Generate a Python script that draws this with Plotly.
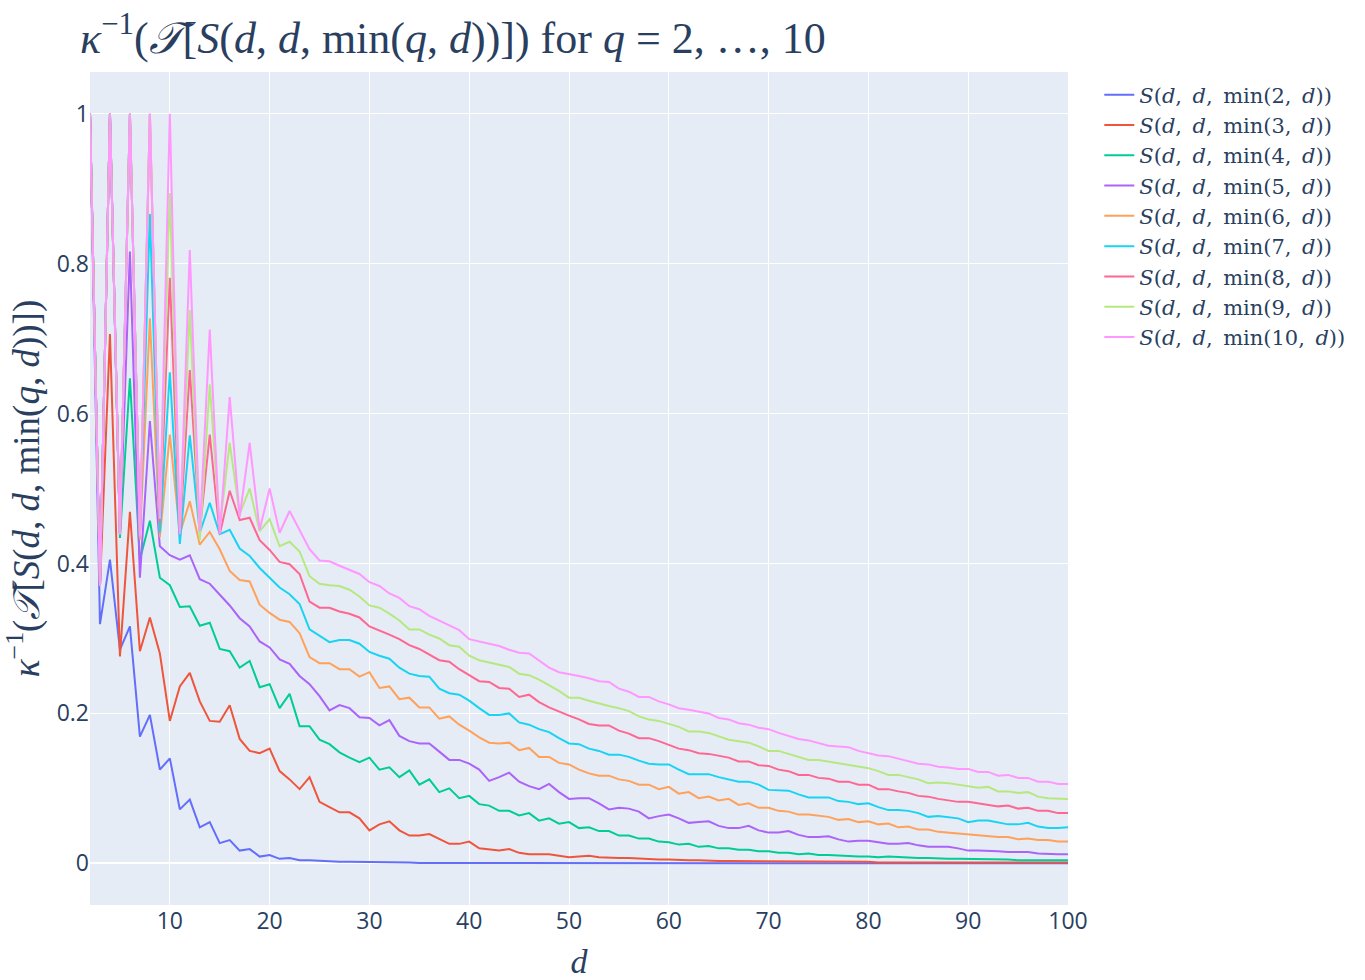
import plotly.graph_objects as go

d_values = list(range(2, 101))

q_values = [2, 3, 4, 5, 6, 7, 8, 9, 10]

s_q2 = [
    1.0, 0.319, 0.405, 0.285, 0.316, 0.169, 0.198, 0.125,          # d 2-9
    0.140, 0.072, 0.085, 0.048, 0.055, 0.027, 0.031, 0.017, 0.019, 0.009,  # 10-19
    0.011, 0.006, 0.007, 0.004, 0.004, 0.003, 0.003, 0.002, 0.002, 0.002,  # 20-29
    0.001, 0.001, 0.001, 0.001, 0.001, 0.0005, 0.0005, 0.0004, 0.0003, 0.0003,  # 30-39
    0.0002, 0.0002, 0.0001, 0.0001, 0.0001, 0.0001, 0.0, 0.0, 0.0, 0.0,  # 40-49
    0.0, 0.0, 0.0, 0.0, 0.0, 0.0, 0.0, 0.0, 0.0, 0.0,  # 50-59
    0.0, 0.0, 0.0, 0.0, 0.0, 0.0, 0.0, 0.0, 0.0, 0.0,  # 60-69
    0.0, 0.0, 0.0, 0.0, 0.0, 0.0, 0.0, 0.0, 0.0, 0.0,  # 70-79
    0.0, 0.0, 0.0, 0.0, 0.0, 0.0, 0.0, 0.0, 0.0, 0.0,  # 80-89
    0.0, 0.0, 0.0, 0.0, 0.0, 0.0, 0.0, 0.0, 0.0, 0.0,  # 90-99
    0.0,  # 100
]

s_q3 = [
    1.0, 0.370, 0.706, 0.276, 0.469, 0.283, 0.328, 0.280,
    0.190, 0.236, 0.254, 0.216, 0.190, 0.189, 0.211, 0.166, 0.150, 0.147,
    0.153, 0.123, 0.112, 0.099, 0.115, 0.082, 0.075, 0.068, 0.068, 0.060,
    0.044, 0.052, 0.056, 0.044, 0.037, 0.037, 0.039, 0.032, 0.026, 0.026,
    0.029, 0.020, 0.019, 0.017, 0.019, 0.014, 0.012, 0.012, 0.012, 0.010,
    0.008, 0.009, 0.010, 0.008, 0.007, 0.007, 0.007, 0.006, 0.005, 0.005,
    0.005, 0.004, 0.004, 0.004, 0.003, 0.003, 0.003, 0.003, 0.003, 0.002,
    0.002, 0.002, 0.002, 0.002, 0.002, 0.002, 0.002, 0.002, 0.002, 0.002,
    0.002, 0.001, 0.001, 0.001, 0.001, 0.001, 0.001, 0.001, 0.001, 0.001,
    0.001, 0.001, 0.001, 0.001, 0.001, 0.001, 0.001, 0.001, 0.001, 0.001,
    0.001,
]

s_q4 = [
    1.0, 0.370, 1.0, 0.434, 0.647, 0.405, 0.457, 0.381,
    0.371, 0.342, 0.343, 0.317, 0.321, 0.286, 0.283, 0.261, 0.270, 0.235,
    0.239, 0.207, 0.226, 0.183, 0.183, 0.165, 0.159, 0.148, 0.141, 0.135,
    0.141, 0.125, 0.128, 0.115, 0.124, 0.105, 0.112, 0.095, 0.100, 0.087,
    0.090, 0.079, 0.077, 0.070, 0.070, 0.064, 0.067, 0.057, 0.060, 0.053,
    0.055, 0.047, 0.048, 0.043, 0.043, 0.037, 0.037, 0.033, 0.033, 0.029,
    0.028, 0.025, 0.026, 0.022, 0.023, 0.020, 0.020, 0.018, 0.018, 0.016,
    0.016, 0.014, 0.014, 0.012, 0.013, 0.011, 0.011, 0.010, 0.010, 0.009,
    0.009, 0.008, 0.009, 0.008, 0.008, 0.007, 0.007, 0.006, 0.006, 0.006,
    0.006, 0.005, 0.005, 0.005, 0.005, 0.004, 0.004, 0.004, 0.004, 0.004,
    0.004,
]

s_q5 = [
    1.0, 0.370, 1.0, 0.439, 0.816, 0.381, 0.590, 0.423,
    0.411, 0.405, 0.411, 0.379, 0.373, 0.359, 0.344, 0.327, 0.316, 0.296,
    0.288, 0.272, 0.266, 0.250, 0.239, 0.223, 0.204, 0.211, 0.207, 0.195,
    0.194, 0.184, 0.191, 0.170, 0.163, 0.160, 0.160, 0.149, 0.138, 0.138,
    0.133, 0.125, 0.110, 0.115, 0.121, 0.109, 0.103, 0.099, 0.106, 0.095,
    0.086, 0.087, 0.087, 0.080, 0.072, 0.074, 0.073, 0.069, 0.060, 0.063,
    0.065, 0.060, 0.054, 0.055, 0.056, 0.050, 0.047, 0.047, 0.050, 0.044,
    0.041, 0.041, 0.043, 0.038, 0.035, 0.035, 0.036, 0.032, 0.029, 0.030,
    0.030, 0.028, 0.026, 0.026, 0.027, 0.024, 0.022, 0.022, 0.022, 0.020,
    0.017, 0.017, 0.017, 0.016, 0.015, 0.015, 0.015, 0.013, 0.012, 0.012,
    0.012,
]

s_q6 = [
    1.0, 0.370, 1.0, 0.439, 1.0, 0.432, 0.727, 0.435,
    0.572, 0.440, 0.483, 0.425, 0.442, 0.419, 0.390, 0.378, 0.376, 0.345,
    0.334, 0.325, 0.322, 0.307, 0.275, 0.267, 0.267, 0.259, 0.259, 0.249,
    0.255, 0.234, 0.236, 0.219, 0.221, 0.208, 0.208, 0.193, 0.196, 0.185,
    0.177, 0.168, 0.161, 0.160, 0.161, 0.151, 0.154, 0.142, 0.142, 0.134,
    0.132, 0.125, 0.120, 0.117, 0.117, 0.112, 0.110, 0.105, 0.105, 0.099,
    0.102, 0.093, 0.095, 0.087, 0.089, 0.084, 0.086, 0.078, 0.080, 0.074,
    0.074, 0.070, 0.069, 0.065, 0.065, 0.063, 0.062, 0.058, 0.059, 0.055,
    0.056, 0.052, 0.053, 0.048, 0.049, 0.045, 0.045, 0.042, 0.041, 0.039,
    0.038, 0.037, 0.036, 0.035, 0.035, 0.032, 0.033, 0.031, 0.031, 0.029,
    0.029,
]

s_q7 = [
    1.0, 0.370, 1.0, 0.439, 1.0, 0.436, 0.866, 0.441,
    0.655, 0.426, 0.571, 0.441, 0.481, 0.439, 0.445, 0.420, 0.410, 0.394,
    0.381, 0.368, 0.359, 0.346, 0.312, 0.303, 0.295, 0.298, 0.298, 0.293,
    0.282, 0.277, 0.273, 0.261, 0.253, 0.250, 0.249, 0.233, 0.227, 0.225,
    0.217, 0.207, 0.198, 0.198, 0.200, 0.188, 0.185, 0.179, 0.175, 0.167,
    0.160, 0.159, 0.153, 0.150, 0.145, 0.145, 0.142, 0.137, 0.133, 0.132,
    0.132, 0.125, 0.119, 0.119, 0.119, 0.115, 0.112, 0.109, 0.109, 0.105,
    0.098, 0.097, 0.097, 0.092, 0.088, 0.088, 0.088, 0.083, 0.082, 0.079,
    0.080, 0.075, 0.071, 0.071, 0.070, 0.067, 0.062, 0.063, 0.061, 0.060,
    0.055, 0.057, 0.057, 0.055, 0.052, 0.052, 0.054, 0.049, 0.047, 0.047,
    0.048,
]

s_q8 = [
    1.0, 0.370, 1.0, 0.439, 1.0, 0.436, 1.0, 0.455,
    0.781, 0.439, 0.658, 0.443, 0.572, 0.439, 0.497, 0.458, 0.461, 0.431,
    0.418, 0.402, 0.399, 0.386, 0.349, 0.341, 0.341, 0.336, 0.333, 0.328,
    0.316, 0.311, 0.305, 0.299, 0.291, 0.286, 0.279, 0.271, 0.269, 0.259,
    0.251, 0.243, 0.242, 0.234, 0.233, 0.222, 0.225, 0.215, 0.208, 0.202,
    0.197, 0.192, 0.186, 0.184, 0.184, 0.177, 0.173, 0.167, 0.167, 0.163,
    0.158, 0.153, 0.151, 0.147, 0.146, 0.143, 0.141, 0.136, 0.136, 0.131,
    0.130, 0.125, 0.123, 0.118, 0.118, 0.114, 0.113, 0.109, 0.109, 0.105,
    0.105, 0.099, 0.099, 0.096, 0.094, 0.090, 0.089, 0.086, 0.084, 0.082,
    0.082, 0.080, 0.079, 0.076, 0.077, 0.073, 0.074, 0.070, 0.070, 0.067,
    0.067,
]

s_q9 = [
    1.0, 0.370, 1.0, 0.439, 1.0, 0.436, 1.0, 0.460,
    0.894, 0.443, 0.738, 0.431, 0.639, 0.447, 0.561, 0.466, 0.500, 0.443,
    0.459, 0.423, 0.429, 0.416, 0.383, 0.373, 0.371, 0.370, 0.365, 0.356,
    0.344, 0.341, 0.333, 0.324, 0.312, 0.312, 0.305, 0.300, 0.291, 0.289,
    0.277, 0.271, 0.268, 0.265, 0.262, 0.253, 0.251, 0.245, 0.238, 0.230,
    0.221, 0.221, 0.217, 0.214, 0.210, 0.207, 0.203, 0.196, 0.192, 0.190,
    0.186, 0.182, 0.176, 0.176, 0.174, 0.170, 0.165, 0.163, 0.161, 0.156,
    0.150, 0.150, 0.146, 0.142, 0.138, 0.138, 0.136, 0.134, 0.132, 0.129,
    0.127, 0.123, 0.118, 0.118, 0.115, 0.112, 0.107, 0.108, 0.107, 0.105,
    0.103, 0.101, 0.102, 0.096, 0.096, 0.094, 0.095, 0.089, 0.087, 0.086,
    0.086,
]

s_q10 = [
    1.0, 0.370, 1.0, 0.439, 1.0, 0.436, 1.0, 0.460,
    1.0, 0.439, 0.818, 0.443, 0.712, 0.439, 0.622, 0.462, 0.561, 0.445,
    0.500, 0.441, 0.470, 0.444, 0.419, 0.404, 0.403, 0.397, 0.391, 0.386,
    0.375, 0.370, 0.360, 0.354, 0.343, 0.339, 0.330, 0.324, 0.318, 0.311,
    0.299, 0.296, 0.294, 0.290, 0.285, 0.281, 0.280, 0.271, 0.261, 0.255,
    0.253, 0.250, 0.247, 0.243, 0.242, 0.233, 0.229, 0.222, 0.222, 0.216,
    0.212, 0.207, 0.205, 0.202, 0.200, 0.194, 0.192, 0.187, 0.185, 0.181,
    0.179, 0.174, 0.170, 0.166, 0.164, 0.160, 0.157, 0.156, 0.155, 0.150,
    0.147, 0.144, 0.143, 0.140, 0.136, 0.133, 0.132, 0.129, 0.128, 0.126,
    0.126, 0.122, 0.122, 0.117, 0.118, 0.114, 0.114, 0.109, 0.109, 0.106,
    0.106,
]

series = [s_q2, s_q3, s_q4, s_q5, s_q6, s_q7, s_q8, s_q9, s_q10]

serif = "Liberation Serif, DejaVu Serif, serif"
wide_serif = "DejaVu Serif, Liberation Serif, serif"
sp = "\u2002"  # en space, mimics the wider math spacing

fig = go.Figure()
for q, ys in zip(q_values, series):
    fig.add_trace(go.Scatter(
        x=d_values[:len(ys)], y=ys, mode="lines",
        name=f"<i>S</i>(<i>d</i>,{sp}<i>d</i>,{sp}min({q},{sp}<i>d</i>))",
    ))

fig.update_layout(
    template="plotly",
    width=1365, height=980,
    margin=dict(l=90, r=297, t=72, b=75),
    title=dict(
        text="<i>κ</i><sup>−1</sup>(<i>𝒯</i>[<i>S</i>(<i>d</i>, <i>d</i>, min(<i>q</i>, <i>d</i>))]) for <i>q</i> = 2, …, 10",
        x=80 / 1365, xanchor="left", xref="container",
        y=0.962, yanchor="middle", yref="container",
        font=dict(family=serif, size=44, color="#2a3f5f"),
    ),
    legend=dict(font=dict(family=wide_serif, size=21), tracegroupgap=0, x=1.032, y=0.997),
    xaxis=dict(
        title=dict(text="<i>d</i>", font=dict(family=serif, size=34)),
        tickfont=dict(size=23),
        range=[2, 100],
        automargin=False,
    ),
    yaxis=dict(
        title=dict(text="<i>κ</i><sup>−1</sup>(<i>𝒯</i>[<i>S</i>(<i>d</i>, <i>d</i>, min(<i>q</i>, <i>d</i>))])",
                   font=dict(family=serif, size=37)),
        tickfont=dict(size=23),
        automargin=False,
    ),
)

fig.write_html("out.html")
